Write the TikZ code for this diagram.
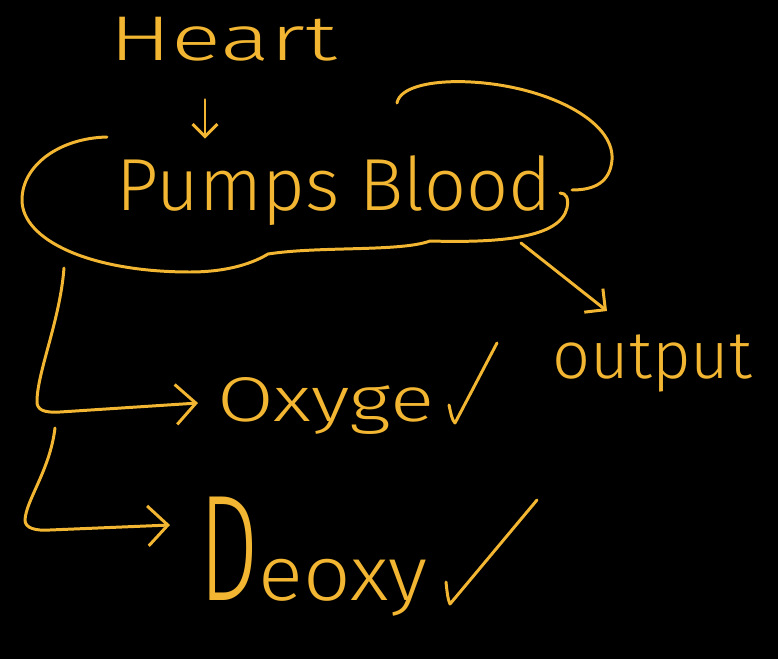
\documentclass[tikz,border=0pt]{standalone}
\usepackage{fontspec}
\setmainfont{Fira Sans Light}
\usepackage{tikz}
\usetikzlibrary{arrows.meta,calc}
\definecolor{chalkgold}{HTML}{F2B632}

\begin{document}
\begin{tikzpicture}[x=0.02cm,y=-0.02cm,line width=1.7pt,
    ink/.style={draw=chalkgold,line cap=round,line join=round},
    inkarrow/.style={ink,-{Straight Barb[length=4mm,width=8mm]}},
    scrawl/.style={text=chalkgold,inner sep=0,anchor=base west}]
  \useasboundingbox[fill=black] (0,0) rectangle (778,659);
  \node[scrawl,font=\fontsize{36}{36}\selectfont] (heart) at (108,60) {\scalebox{1.47}[1]{Heart}};
  \node[scrawl,font=\fontsize{42}{42}\selectfont] (pumps) at (115,210) {Pumps Blood};
  \node[scrawl,font=\fontsize{38}{38}\selectfont] (output) at (551,378) {output};
  \node[scrawl,font=\fontsize{36}{36}\selectfont] (oxyge) at (216,421) {\scalebox{1.3}[1]{Oxyge}};
  \node[scrawl,font=\fontsize{44}{44}\selectfont] (deoxy) at (198,600) {{\fontsize{86}{86}\selectfont\scalebox{0.62}[1]{D}}\scalebox{1.08}[1]{eoxy}};
  % cloud round the pump
  \draw[ink] (107,137) .. controls (60,138) and (22,165) .. (22,200)
    .. controls (22,240) and (90,272) .. (190,272) .. controls (230,272) and (255,262) .. (268,254)
    .. controls (320,246) and (400,252) .. (430,241) .. controls (500,243) and (560,238) .. (567,208)
    .. controls (569,198) and (566,193) .. (560,193);
  \draw[ink] (397,103) .. controls (400,86) and (435,80) .. (471,82)
    .. controls (545,86) and (615,120) .. (612,160) .. controls (610,182) and (595,190) .. (572,190);
  \coordinate (cloudleft) at (64,268);
  \coordinate (cloudright) at (521,243);
  \coordinate (lowerleft) at (55,428);
  \coordinate (oxtip) at (198,403);
  \coordinate (detip) at (170,525);
  \coordinate (outtip) at (607,311);
  \draw[inkarrow,-{Straight Barb[length=2.5mm,width=5mm]},shorten <=0.75cm]
    (heart.south -| 205,0) -- ([yshift=0.3cm]pumps.north -| 205,0);
  \draw[inkarrow,-{Straight Barb[length=3mm,width=6mm]}] (cloudright) -- (outtip);
  \draw[inkarrow] (cloudleft) .. controls (60,320) and (38,370) .. (37,400)
    .. controls (36,410) and (44,413) .. (60,412) -- (oxtip);
  \draw[inkarrow] (lowerleft) .. controls (50,470) and (26,500) .. (25,520)
    .. controls (25,528) and (35,531) .. (50,530) -- (detip);
  % ticks
  \draw[ink] (449,405) .. controls (451,414) and (452,420) .. (455,423) -- (497,343);
  \draw[ink] (446,582) .. controls (447,592) and (448,600) .. (450,604) -- (537,500);
\end{tikzpicture}
\end{document}
